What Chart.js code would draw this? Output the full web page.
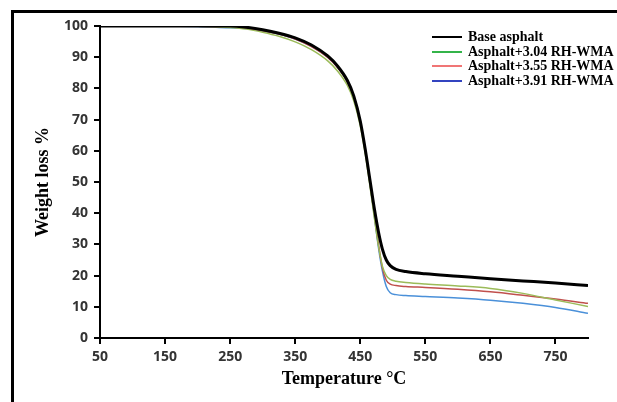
<!DOCTYPE html>
<html>
<head>
<meta charset="utf-8">
<script src="https://cdn.jsdelivr.net/npm/chart.js@4"></script>
<style>
  html, body { margin: 0; padding: 0; background: #fff; }
  #wrap { position: relative; width: 617px; height: 402px; overflow: hidden; }
  #frame { position: absolute; left: 11px; top: 10px; width: 700px; height: 500px;
           border-left: 3px solid #000; border-top: 3px solid #000; pointer-events: none; }
  #legend { position: absolute; left: 432px; top: 29.5px; font: bold 14px "Liberation Serif", serif; color: #000; }
  #legend .row { height: 14.7px; display: flex; align-items: center; white-space: nowrap; }
  #legend .swatch { width: 30px; height: 2px; margin-right: 6px; }
</style>
</head>
<body>
<div id="wrap">
  <canvas id="myChart" width="617" height="402"></canvas>
  <div id="frame"></div>
  <div id="legend"></div>
</div>
<script>
// temperature grid (°C) shared by all curves
const tempC = [50, 100, 150, 200, 250, 275, 300, 325, 350, 375, 400, 415, 430, 440, 450,
  458, 465, 472, 478, 484, 490, 496, 505, 520, 550, 600, 650, 700, 750, 800];

const baseAsphalt = [100, 100, 100, 100, 100, 99.6, 98.8, 97.7, 96.2, 93.9, 90.4, 87.2, 82.6, 77.6, 69.5,
  60, 50.5, 41, 34, 28.5, 25, 23.2, 22, 21.3, 20.6, 19.8, 19, 18.3, 17.6, 16.8];
const wma304 = [100, 100, 100, 99.9, 99.5, 99, 98, 96.7, 94.9, 92.4, 88.8, 85.6, 81, 76, 68,
  58.5, 48.5, 38, 29.5, 23, 20, 18.8, 18.2, 17.8, 17.3, 16.7, 15.9, 14.3, 12.2, 10.1];
const wma355 = [100, 100, 100, 99.9, 99.6, 99.3, 98.5, 97.4, 95.8, 93.4, 89.9, 86.7, 82.1, 77, 69,
  59.5, 49.5, 39, 30, 22.5, 18.5, 17.3, 16.8, 16.5, 16.2, 15.6, 14.8, 13.7, 12.5, 11.1];
const wma391 = [100, 100, 100, 99.8, 99.4, 99.2, 98.5, 97.4, 95.8, 93.5, 90, 86.8, 82.2, 77, 69,
  59.5, 49.5, 38.5, 29, 21.5, 16.5, 14.5, 13.9, 13.6, 13.3, 12.8, 12.1, 11.1, 9.8, 7.9];

const seriesNames = ["Base asphalt", "Asphalt+3.04 RH-WMA", "Asphalt+3.55 RH-WMA", "Asphalt+3.91 RH-WMA"];
const xTicks = [50, 150, 250, 350, 450, 550, 650, 750];
const yTicks = [0, 10, 20, 30, 40, 50, 60, 70, 80, 90, 100];

const lineColors = ["#000000", "#9bbb59", "#c0504d", "#4a90d9"];
const legendColors = ["#000000", "#34b44a", "#f07575", "#3344c0"];
const lineWidths = [3, 1.5, 1.5, 1.5];

function toPoints(values) {
  return values.map((v, i) => ({ x: tempC[i], y: v }));
}

function buildLegend() {
  const target = document.querySelector("#legend");
  target.innerHTML = "";
  seriesNames.forEach((name, i) => {
    target.innerHTML += `<div class="row"><span class="swatch" style="background:${legendColors[i]}"></span>${name}</div>`;
  });
}

function initChart() {
  const allValues = [baseAsphalt, wma304, wma355, wma391];
  const datasets = allValues.map((vals, i) => ({
    label: seriesNames[i],
    data: toPoints(vals),
    borderColor: lineColors[i],
    backgroundColor: lineColors[i],
    borderWidth: lineWidths[i],
    pointRadius: 0,
    cubicInterpolationMode: "monotone",
    order: i === 0 ? 0 : 1,
  }));

  const tickFont = { family: "'Open Sans', sans-serif", size: 14, weight: "bold" };
  const titleFont = { family: "'Liberation Serif', serif", size: 18, weight: "bold" };

  return new Chart(document.querySelector("#myChart"), {
    type: "line",
    data: { datasets: datasets },
    options: {
      responsive: false,
      animation: false,
      layout: { padding: { left: 0, right: 29, top: 26, bottom: 0 } },
      plugins: { legend: { display: false }, tooltip: { enabled: false } },
      scales: {
        x: {
          type: "linear",
          min: 50,
          max: 800,
          afterBuildTicks: (scale) => { scale.ticks = xTicks.map((v) => ({ value: v })); },
          afterFit: (scale) => { scale.height = 64; },
          ticks: { font: tickFont, color: "#333", padding: 5, maxRotation: 0 },
          grid: { drawOnChartArea: false, drawTicks: true, tickLength: 6, color: "#000", lineWidth: 2 },
          border: { display: true, color: "#000", width: 2 },
          title: { display: true, text: "Temperature °C", font: titleFont, color: "#000", padding: { top: 0, bottom: 12 } },
        },
        y: {
          min: 0,
          max: 100,
          afterBuildTicks: (scale) => { scale.ticks = yTicks.map((v) => ({ value: v })); },
          afterFit: (scale) => { scale.width = 100; },
          ticks: { font: tickFont, color: "#333", padding: 6 },
          grid: { drawOnChartArea: false, drawTicks: true, tickLength: 6, color: "#000", lineWidth: 2 },
          border: { display: true, color: "#000", width: 2 },
          title: { display: true, text: "Weight loss %", font: titleFont, color: "#000", padding: { top: 33, bottom: 0 } },
        },
      },
    },
  });
}

document.addEventListener("DOMContentLoaded", () => {
  buildLegend();
  initChart();
});
</script>
</body>
</html>
